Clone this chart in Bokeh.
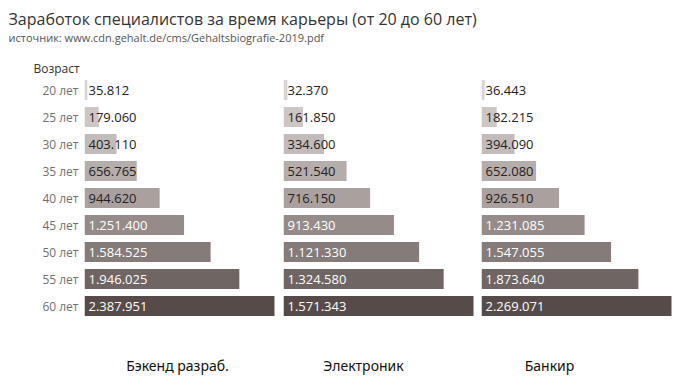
from bokeh.plotting import figure
from bokeh.layouts import column, row
from bokeh.models import ColumnDataSource, FactorRange, Range1d
from bokeh.core.properties import value
from bokeh.embed import file_html
from bokeh.resources import INLINE

ages = ["20 лет", "25 лет", "30 лет", "35 лет", "40 лет", "45 лет", "50 лет", "55 лет", "60 лет"]
backend = [35812, 179060, 403110, 656765, 944620, 1251400, 1584525, 1946025, 2387951]
electronic = [32370, 161850, 334600, 521540, 716150, 913430, 1121330, 1324580, 1571343]
banker = [36443, 182215, 394090, 652080, 926510, 1231085, 1547055, 1873640, 2269071]
professions = ["Бэкенд разраб.", "Электроник", "Банкир"]
colors = ["#d9d3d1", "#cdc6c4", "#c3bbb9", "#b6adab", "#aaa19f", "#958c8a", "#857b78", "#6f6563", "#564b48"]
label_colors = ["#222222"] * 5 + ["#ffffff"] * 4

title = "Заработок специалистов за время карьеры (от 20 до 60 лет)"
subtitle = "источник: www.cdn.gehalt.de/cms/Gehaltsbiografie-2019.pdf"
FONT = "Open Sans"


def fmt(v):
    return f"{v:,}".replace(",", ".")


# header
header = figure(width=680, height=76, x_range=Range1d(0, 680), y_range=Range1d(76, 0),
                output_backend="svg", toolbar_location=None, min_border=0)
header.axis.visible = False
header.grid.visible = False
header.outline_line_color = None
header.text(x=[8], y=[18], text=[title], text_font=value(FONT), text_font_size="16px",
            text_color="#333333", text_baseline="middle")
header.text(x=[8], y=[37], text=[subtitle], text_font=value(FONT), text_font_size="11px",
            text_color="#555555", text_baseline="middle")
header.text(x=[33], y=[68], text=["Возраст"], text_font=value(FONT), text_font_size="12px",
            text_color="#333333", text_baseline="middle", text_align="left")

series = [backend, electronic, banker]
lefts = [84, 3, 2]
frame_w = 196
bar_px = 190
figs = []
for i, vals in enumerate(series):
    src = ColumnDataSource(dict(age=ages, v=vals, c=colors, lc=label_colors,
                                lab=[fmt(v) for v in vals]))
    xmax = max(vals) * frame_w / bar_px
    f = figure(width=lefts[i] + frame_w, height=243,
               y_range=FactorRange(factors=list(reversed(ages)), range_padding=0),
               x_range=Range1d(0, xmax),
               output_backend="svg", toolbar_location=None,
               min_border_left=lefts[i], min_border_right=0, min_border_top=0, min_border_bottom=0)
    f.hbar(y="age", right="v", left=0, height=0.74, fill_color="c", line_color=None, source=src)
    f.text(x=0, y="age", text="lab", x_offset=4, text_color="lc", text_font=value(FONT),
           text_font_size="13px", text_baseline="middle", source=src)
    f.xaxis.visible = False
    f.grid.visible = False
    f.outline_line_color = None
    if i == 0:
        f.yaxis.axis_line_color = None
        f.yaxis.major_tick_line_color = None
        f.yaxis.minor_tick_line_color = None
        f.yaxis.major_tick_out = 0
        f.yaxis.major_tick_in = 0
        f.yaxis.major_label_standoff = 6
        f.yaxis.major_label_text_font = FONT
        f.yaxis.major_label_text_font_size = "12px"
        f.yaxis.major_label_text_color = "#707070"
    else:
        f.yaxis.visible = False
    figs.append(f)

footer = figure(width=680, height=58, x_range=Range1d(0, 680), y_range=Range1d(58, 0),
                output_backend="svg", toolbar_location=None, min_border=0)
footer.axis.visible = False
footer.grid.visible = False
footer.outline_line_color = None
footer.text(x=[177, 363, 549], y=[46, 46, 46], text=professions, text_font=value("Noto Sans"),
            text_font_size="14px", text_color="#111111", text_align="center", text_baseline="middle")

layout = column(header, row(*figs, spacing=0), footer, spacing=0)
open("out.html", "w").write(file_html(layout, INLINE))
